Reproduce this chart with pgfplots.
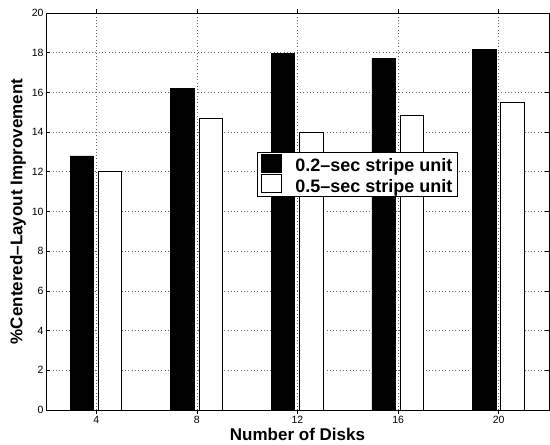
\documentclass[border=0pt]{standalone}
\usepackage{pgfplots}
\pgfplotsset{compat=1.18}
\usetikzlibrary{calc}
\usepackage{fontspec}
\setmainfont{Liberation Sans}
\begin{document}
\begin{tikzpicture}
\begin{axis}[
  scale only axis,
  width=503pt, height=397pt,
  xmin=2, xmax=22, ymin=0, ymax=20,
  xtick={4,8,12,16,20},
  ytick={0,2,...,20},
  tick align=inside,
  major tick length=4pt,
  xmajorgrids, ymajorgrids,
  grid style={black!60, dash pattern=on 0.7pt off 2.6pt, line width=0.6pt},
  axis line style={black, line width=0.9pt},
  tick style={black, line width=0.6pt},
  ticklabel style={font=\fontsize{10.5}{12}\selectfont},
  yticklabel style={xshift=1pt},
  xticklabel style={yshift=1pt},
  /pgf/number format/assume math mode=true,
  xlabel={\bfseries Number of Disks},
  ylabel={\bfseries \%Centered--Layout Improvement},
  label style={font=\fontsize{17}{19}\selectfont},
  xlabel style={yshift=3pt},
  ylabel style={yshift=-1pt},
  ybar, bar width=0.93,
  legend style={at={(0.42,0.649)}, anchor=north west, draw=black, line width=0.9pt,
    font=\fontsize{18}{20}\selectfont\bfseries, inner xsep=3pt, inner ysep=1pt,
    cells={anchor=west}, row sep=-1pt},
  legend image code/.code={\draw[#1, draw=black, line width=0.6pt] (0pt,-6pt) rectangle (20pt,12pt);},
  legend cell align=left,
]
\addplot[draw=black, fill=black, bar shift=-0.58] coordinates {(4,12.8) (8,16.2) (12,17.97) (16,17.7) (20,18.18)};
\addplot[draw=black, fill=white, bar shift=0.55, line width=0.8pt] coordinates {(4,12.0) (8,14.68) (12,14.0) (16,14.82) (20,15.5)};
\legend{\hspace{12pt}0.2--sec stripe unit, \hspace{12pt}0.5--sec stripe unit}
\coordinate (sw) at (rel axis cs:0,0);
\coordinate (ne) at (rel axis cs:1,1);
\end{axis}
\pgfresetboundingbox
\path[use as bounding box] ($(sw)+(-46pt,-35pt)$) rectangle ($(ne)+(1pt,13pt)$);
\end{tikzpicture}
\end{document}
